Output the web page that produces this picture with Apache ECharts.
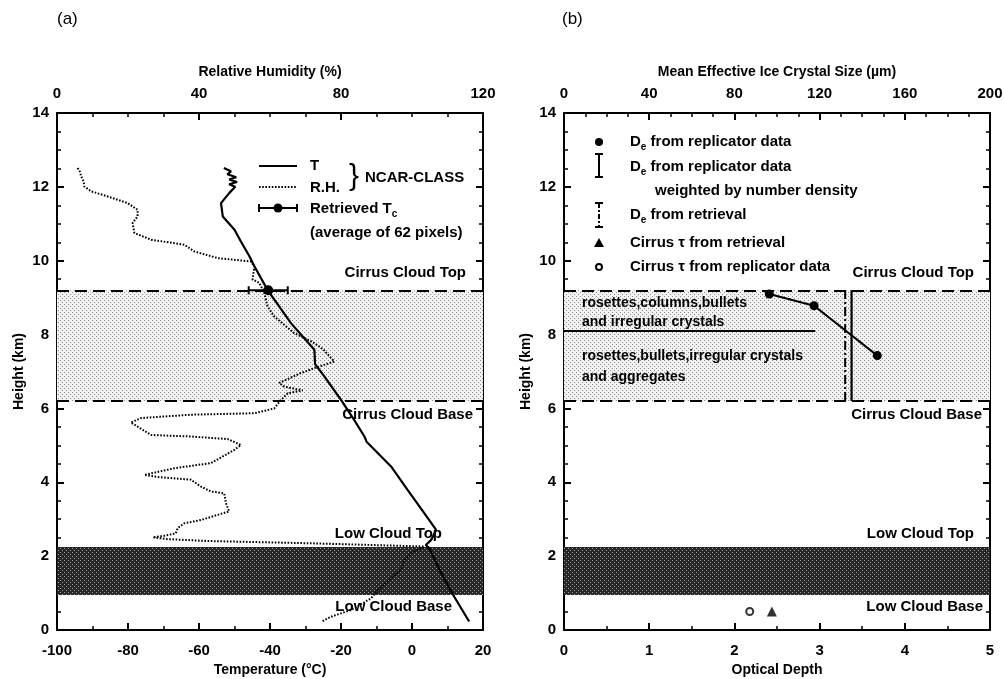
<!DOCTYPE html>
<html><head><meta charset="utf-8">
<script src="https://cdn.jsdelivr.net/npm/echarts/dist/echarts.min.js"></script>
<style>html,body{margin:0;padding:0;background:#fff}#c{width:1004px;height:679px}</style>
</head><body><div id="c"></div>
<script>
// ---------- data ----------
// Panel (a): NCAR-CLASS temperature profile (°C vs km)
const tempT = [-53.0,-51.0,-52.0,-49.5,-51.5,-49.3,-51.5,-49.8,-51.5,-53.8,-53.3,-50.0,-48.2,-45.8,-44.4,-40.7,-34.1,-27.5,-27.3,-24.7,-20.0,-16.3,-13.4,-12.8,-5.9,-1.2,3.5,6.8,5.4,3.9,4.9,8.2,11.9,16.1];
const tempH = [12.51,12.42,12.34,12.26,12.2,12.13,12.07,12.0,11.83,11.56,11.2,10.84,10.52,10.12,9.85,9.21,8.31,7.59,7.2,6.87,6.23,5.69,5.24,5.1,4.43,3.79,3.16,2.71,2.44,2.3,2.21,1.54,0.9,0.23];
// Panel (a): relative humidity profile (% vs km)
const rhV = [5.8,6.5,6.8,7.5,7.7,9.6,14.3,19.9,22.7,22.7,21.3,21.8,26.5,35.9,38.7,45.3,54.6,55.6,55.1,57.0,58.4,59.3,61.2,66.8,72.0,75.0,78.1,72.5,68.7,62.6,64.0,69.2,65.0,63.1,61.2,55.6,37.7,23.7,20.8,26.5,37.7,48.1,51.8,50.0,43.4,33.0,24.6,28.4,37.7,40.6,43.4,47.1,47.6,48.5,47.0,40.6,35.9,34.0,33.5,30.2,27.0,31.2,42.4,70.6,89.4,103.5,100.0,97.8,96.9,90.3,88.5,82.8,77.2,74.4];
const rhH = [12.51,12.4,12.29,12.15,12.01,11.88,11.74,11.56,11.38,11.2,11.02,10.75,10.57,10.43,10.25,10.07,9.98,9.85,9.49,9.4,9.12,8.76,8.49,8.04,7.8,7.6,7.27,7.09,6.96,6.69,6.59,6.49,6.41,6.23,6.0,5.87,5.83,5.74,5.62,5.28,5.24,5.17,5.01,4.88,4.52,4.38,4.2,4.14,4.07,3.88,3.75,3.7,3.43,3.21,3.17,2.98,2.89,2.76,2.62,2.55,2.51,2.46,2.41,2.35,2.3,2.26,2.1,1.9,1.63,1.08,0.86,0.54,0.36,0.22];
// Retrieved cloud-top temperature: [T, height, half-range]
const retrievedTc = [-40.5, 9.2, 5.5];
// Cloud layers (km)
const cirrusTop = 9.2, cirrusBase = 6.2, lowTop = 2.25, lowBase = 0.95;
// Panel (b): De from replicator data (µm vs km)
const deSize = [96.4, 117.4, 147.1];
const deH = [9.1, 8.78, 7.43];
const deWeighted = 135;   // µm, number-density weighted
const deRetrieval = 132;  // µm, retrieval
const crystalSplitH = 8.1, crystalSplitSize = 118;
// Optical depths
const tauRetrieval = 2.44, tauReplicator = 2.18, tauH = 0.5;
// Tick label sets
const tempTicks = [-100,20,20], rhTicks = [0,120,40], odTicks = [0,5,1], sizeTicks = [0,200,40], hTicks = [0,14,2];

// ---------- helpers ----------
function pattern(bg, fg, size, pts){
  const c=document.createElement('canvas'); c.width=c.height=size;
  const x=c.getContext('2d'); x.fillStyle=bg; x.fillRect(0,0,size,size);
  x.fillStyle=fg; pts.forEach(p=>x.fillRect(p[0],p[1],1,1));
  return {image:c, repeat:'repeat'};
}
const lightPat = pattern('#f2f2f2','#8c8c8c',4,[[0,0],[2,2]]);
const darkPat = pattern('#262626','#a0a0a0',4,[[0,0],[2,2]]);
const FONT = 'Liberation Sans, Arial, Helvetica, sans-serif';
const tickLbl = {color:'#000', fontSize:15, fontWeight:'bold', fontFamily:FONT};
const nameSty = {color:'#000', fontSize:14, fontWeight:'bold', fontFamily:FONT};
const axLine = {show:true, onZero:false, lineStyle:{color:'#000', width:2}};
const tick = {show:true, inside:true, length:7, lineStyle:{color:'#000', width:2}};
const minor = (n)=>({show:true, splitNumber:n, length:4, lineStyle:{color:'#000', width:1.5}});

function xAx(grid, pos, t, name, gap, minorN, margin){
  return {type:'value', gridIndex:grid, position:pos, min:t[0], max:t[1], interval:t[2],
    name:name, nameLocation:'middle', nameGap:gap, nameTextStyle:nameSty,
    axisLine:axLine, axisTick:tick, minorTick:minor(minorN), splitLine:{show:false},
    axisLabel:{show:true, margin:margin, ...tickLbl}};
}
function yAx(grid, pos, showLbl){
  return {type:'value', gridIndex:grid, position:pos, min:hTicks[0], max:hTicks[1], interval:hTicks[2],
    name: showLbl?'Height (km)':'', nameLocation:'middle', nameGap:31, nameTextStyle:nameSty,
    axisLine:axLine, axisTick:tick, minorTick:minor(4), splitLine:{show:false},
    axisLabel:{show:showLbl, margin:8, ...tickLbl}};
}
const bandSeries = (xi, yi)=>({type:'line', xAxisIndex:xi, yAxisIndex:yi, data:[], z:1, silent:true,
  markArea:{silent:true, data:[
    [{yAxis:cirrusBase, itemStyle:{color:lightPat}}, {yAxis:cirrusTop}],
    [{yAxis:lowBase, itemStyle:{color:darkPat}}, {yAxis:lowTop}]]},
  markLine:{silent:true, symbol:['none','none'], label:{show:false},
    lineStyle:{color:'#000', width:2, type:[12,6]}, data:[{yAxis:cirrusTop},{yAxis:cirrusBase}]}});

const txt = (x,y,s,extra)=>({type:'text', x:x, y:y, z:100, style:Object.assign({text:s, fill:'#000', font:'bold 15px '+FONT, textVerticalAlign:'middle'}, extra||{})});
const richTxt = (x,y,s)=>({type:'text', x:x, y:y, z:100, style:{text:s, fill:'#000', textVerticalAlign:'middle', font:'bold 15px '+FONT,
  rich:{n:{fontSize:15, fontWeight:'bold', fontFamily:FONT}, s:{fontSize:10, fontWeight:'bold', fontFamily:FONT, padding:[10,0,0,0]}}}});
const seg = (x1,y1,x2,y2,extra)=>({type:'line', z:100, shape:{x1:x1,y1:y1,x2:x2,y2:y2}, style:Object.assign({stroke:'#000', lineWidth:2}, extra||{})});

const chart = echarts.init(document.getElementById('c'));
chart.setOption({
  animation:false, backgroundColor:'#fff',
  grid:[{left:57, top:113, width:426, height:517, outerBoundsMode:'none', containLabel:false},
        {left:564, top:113, width:426, height:517, outerBoundsMode:'none', containLabel:false}],
  xAxis:[
    xAx(0,'bottom',tempTicks,'Temperature (°C)',33,2,13),
    xAx(0,'top',rhTicks,'Relative Humidity (%)',34,4,12),
    xAx(1,'bottom',odTicks,'Optical Depth',33,2,13),
    xAx(1,'top',sizeTicks,'Mean Effective Ice Crystal Size (µm)',34,4,12)
  ],
  yAxis:[yAx(0,'left',true), yAx(0,'right',false), yAx(1,'left',true), yAx(1,'right',false)],
  series:[
    bandSeries(0,0),
    bandSeries(2,2),
    {type:'line', xAxisIndex:0, yAxisIndex:0, z:3, symbol:'none', data:tempT.map((t,i)=>[t,tempH[i]]),
      lineStyle:{color:'#000', width:2.2}},
    {type:'line', xAxisIndex:1, yAxisIndex:0, z:3, symbol:'none', data:rhV.map((r,i)=>[r,rhH[i]]),
      lineStyle:{color:'#000', width:2, type:[1.6,1.6]}},
    {type:'custom', xAxisIndex:0, yAxisIndex:0, z:4, data:[retrievedTc],
      renderItem:function(p, api){
        const c=api.coord([api.value(0),api.value(1)]);
        const l=api.coord([api.value(0)-api.value(2),api.value(1)]);
        const r=api.coord([api.value(0)+api.value(2),api.value(1)]);
        const st={stroke:'#000', lineWidth:2};
        return {type:'group', children:[
          {type:'line', shape:{x1:l[0],y1:l[1],x2:r[0],y2:r[1]}, style:st},
          {type:'line', shape:{x1:l[0],y1:l[1]-4,x2:l[0],y2:l[1]+4}, style:st},
          {type:'line', shape:{x1:r[0],y1:r[1]-4,x2:r[0],y2:r[1]+4}, style:st},
          {type:'circle', shape:{cx:c[0],cy:c[1],r:5}, style:{fill:'#000'}}]};
      }},
    {type:'line', xAxisIndex:3, yAxisIndex:2, z:4, data:deSize.map((s,i)=>[s,deH[i]]),
      symbol:'circle', symbolSize:9, itemStyle:{color:'#000'}, lineStyle:{color:'#000', width:2}},
    {type:'line', xAxisIndex:3, yAxisIndex:2, z:3, symbol:'none', data:[[deWeighted,cirrusBase],[deWeighted,cirrusTop]],
      lineStyle:{color:'#000', width:2.2}},
    {type:'line', xAxisIndex:3, yAxisIndex:2, z:3, symbol:'none', data:[[deRetrieval,cirrusBase],[deRetrieval,cirrusTop]],
      lineStyle:{color:'#000', width:2, type:[9,3,2,3]}},
    {type:'line', xAxisIndex:3, yAxisIndex:2, z:3, symbol:'none', data:[[0,crystalSplitH],[crystalSplitSize,crystalSplitH]],
      lineStyle:{color:'#000', width:2}},
    {type:'scatter', xAxisIndex:2, yAxisIndex:2, z:4, data:[[tauRetrieval,tauH]], symbol:'triangle', symbolSize:10,
      itemStyle:{color:'#000'}},
    {type:'scatter', xAxisIndex:2, yAxisIndex:2, z:4, data:[[tauReplicator,tauH]], symbol:'circle', symbolSize:7,
      itemStyle:{color:'#fff', borderColor:'#000', borderWidth:2}}
  ],
  graphic:[
    txt(57,19,'(a)',{font:'17px '+FONT}),
    txt(562,19,'(b)',{font:'17px '+FONT}),
    // panel a legend
    seg(259,166,297,166),
    seg(259,187,297,187,{lineDash:[1.6,1.6]}),
    txt(310,166,'T'), txt(310,188,'R.H.'),
    txt(349,177,'}',{font:'30px '+FONT}),
    txt(365,178,'NCAR-CLASS'),
    seg(259,208,297,208), seg(259,204,259,212), seg(297,204,297,212),
    {type:'circle', z:100, shape:{cx:278,cy:208,r:4.5}, style:{fill:'#000'}},
    richTxt(310,209,'{n|Retrieved T}{s|c}'),
    txt(310,233,'(average of 62 pixels)'),
    // cloud labels a
    txt(466,273,'Cirrus Cloud Top',{textAlign:'right'}),
    txt(473,415,'Cirrus Cloud Base',{textAlign:'right'}),
    txt(442,534,'Low Cloud Top',{textAlign:'right'}),
    txt(452,607,'Low Cloud Base',{textAlign:'right'}),
    // cloud labels b
    txt(974,273,'Cirrus Cloud Top',{textAlign:'right'}),
    txt(982,415,'Cirrus Cloud Base',{textAlign:'right'}),
    txt(974,534,'Low Cloud Top',{textAlign:'right'}),
    txt(983,607,'Low Cloud Base',{textAlign:'right'}),
    // crystal habit labels
    txt(582,303,'rosettes,columns,bullets',{font:'bold 14px '+FONT}),
    txt(582,322,'and irregular crystals',{font:'bold 14px '+FONT}),
    txt(582,356,'rosettes,bullets,irregular crystals',{font:'bold 14px '+FONT}),
    txt(582,377,'and aggregates',{font:'bold 14px '+FONT}),
    // panel b legend
    {type:'circle', z:100, shape:{cx:599,cy:142,r:4}, style:{fill:'#000'}},
    richTxt(630,142,'{n|D}{s|e}{n| from replicator data}'),
    seg(599,154,599,177), seg(595,154,603,154), seg(595,177,603,177),
    richTxt(630,167,'{n|D}{s|e}{n| from replicator data}'),
    txt(655,191,'weighted by number density'),
    seg(599,203,599,227,{lineDash:[5,2,2,2]}), seg(595,203,603,203), seg(595,227,603,227),
    richTxt(630,215,'{n|D}{s|e}{n| from retrieval}'),
    {type:'polygon', z:100, shape:{points:[[599,238],[604,247],[594,247]]}, style:{fill:'#000'}},
    txt(630,243,'Cirrus τ from retrieval'),
    {type:'circle', z:100, shape:{cx:599,cy:267,r:3}, style:{fill:'#fff', stroke:'#000', lineWidth:2}},
    txt(630,267,'Cirrus τ from replicator data')
  ]
});
</script></body></html>
